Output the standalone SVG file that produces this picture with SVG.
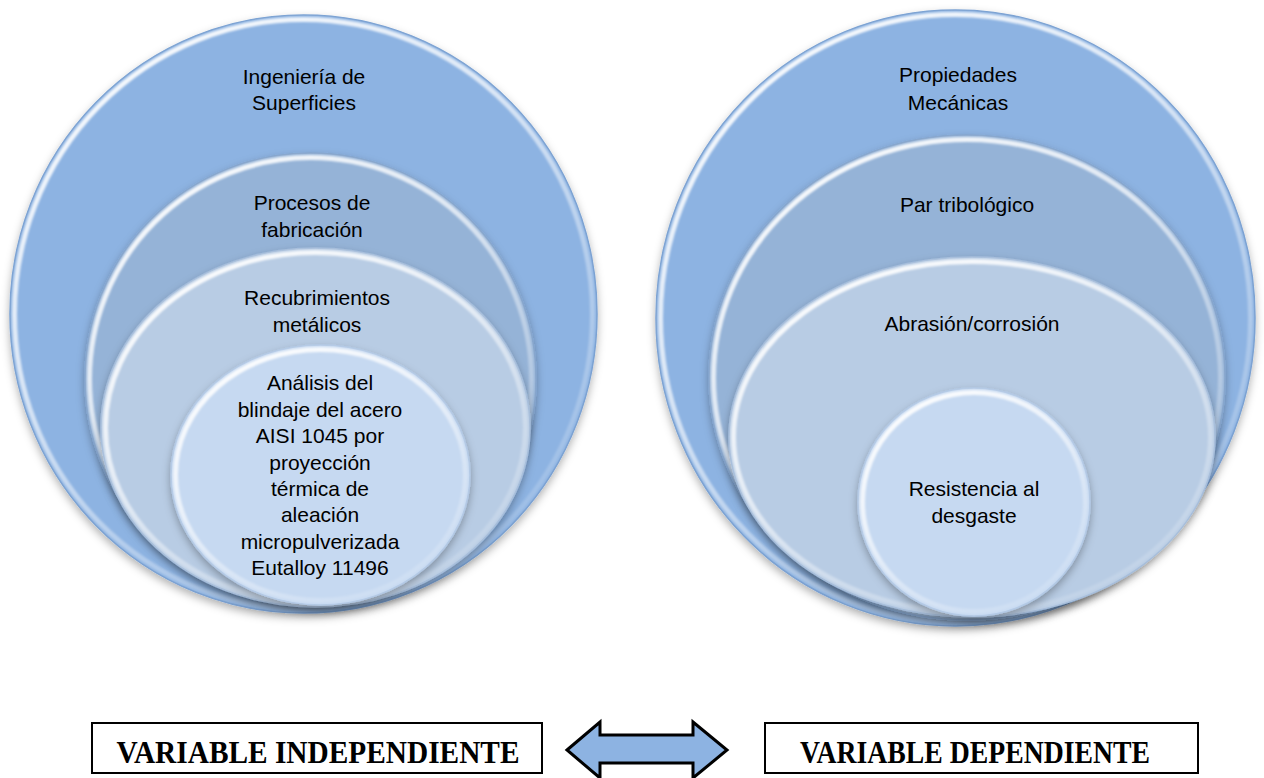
<svg xmlns="http://www.w3.org/2000/svg" width="1264" height="778" viewBox="0 0 1264 778">
<style>
.t{font-family:"Liberation Sans",Arial,sans-serif;font-size:21px;fill:#000;text-anchor:middle}
.b{font-family:"Liberation Serif","Times New Roman",serif;font-weight:bold;font-size:32px;fill:#000;text-anchor:middle}
.l1{fill:#8DB3E2;stroke:#7aa1d2;stroke-width:1.5;filter:url(#sh)}
.l2{fill:#95B3D7;stroke:#86a5cc;stroke-width:1.5;filter:url(#sh)}
.l3{fill:#B8CCE4;stroke:#a7bedb;stroke-width:1.5;filter:url(#sh)}
.l4{fill:#C6D9F1;stroke:#b3c9e5;stroke-width:1.5;filter:url(#sh)}
.rim{fill:none;stroke:url(#rim);stroke-width:5;filter:url(#bl)}
.box{fill:#fff;stroke:#000;stroke-width:2}
</style>
<defs>
<filter id="sh" x="-10%" y="-10%" width="120%" height="125%">
<feDropShadow dx="0" dy="4" stdDeviation="4" flood-color="#000" flood-opacity="0.3"/>
</filter>
<filter id="bl" x="-5%" y="-5%" width="110%" height="110%">
<feGaussianBlur stdDeviation="1.2"/>
</filter>
<linearGradient id="rim" x1="0.2" y1="0" x2="0.8" y2="1">
<stop offset="0" stop-color="#fff" stop-opacity="0.95"/>
<stop offset="0.35" stop-color="#fff" stop-opacity="0.7"/>
<stop offset="0.65" stop-color="#fff" stop-opacity="0.35"/>
<stop offset="1" stop-color="#fff" stop-opacity="0.1"/>
</linearGradient>
</defs>

<g id="left-diagram">
<g id="n-ingenieria">
<ellipse class="l1" cx="303.5" cy="314" rx="293.5" ry="299"/>
<ellipse class="rim" cx="303.5" cy="314" rx="289" ry="294.5"/>
<text class="t" x="304" y="84">Ingeniería de</text>
<text class="t" x="304" y="110">Superficies</text>
</g>
<g id="n-procesos">
<ellipse class="l2" cx="310.5" cy="379" rx="225.5" ry="226"/>
<ellipse class="rim" cx="310.5" cy="379" rx="221" ry="221.5"/>
<text class="t" x="312" y="210">Procesos de</text>
<text class="t" x="312" y="237">fabricación</text>
</g>
<g id="n-recubrimientos">
<ellipse class="l3" cx="315.5" cy="427.5" rx="214.5" ry="179.5"/>
<ellipse class="rim" cx="315.5" cy="427.5" rx="210" ry="175"/>
<text class="t" x="317" y="305">Recubrimientos</text>
<text class="t" x="317" y="332">metálicos</text>
</g>
<g id="n-analisis">
<ellipse class="l4" cx="320.5" cy="475" rx="149.5" ry="130"/>
<ellipse class="rim" cx="320.5" cy="475" rx="145" ry="125.5"/>
<text class="t" x="320" y="390">Análisis del</text>
<text class="t" x="320" y="417">blindaje del acero</text>
<text class="t" x="320" y="443">AISI 1045 por</text>
<text class="t" x="320" y="470">proyección</text>
<text class="t" x="320" y="496">térmica de</text>
<text class="t" x="320" y="522">aleación</text>
<text class="t" x="320" y="549">micropulverizada</text>
<text class="t" x="320" y="575">Eutalloy 11496</text>
</g>
</g>

<g id="right-diagram">
<g id="n-propiedades">
<ellipse class="l1" cx="955.5" cy="318" rx="299.5" ry="308"/>
<ellipse class="rim" cx="955.5" cy="318" rx="295" ry="303.5"/>
<text class="t" x="958" y="82">Propiedades</text>
<text class="t" x="958" y="110">Mecánicas</text>
</g>
<g id="n-par">
<ellipse class="l2" cx="967" cy="377.5" rx="258" ry="242.5"/>
<ellipse class="rim" cx="967" cy="377.5" rx="253.5" ry="238"/>
<text class="t" x="967" y="212">Par tribológico</text>
</g>
<g id="n-abrasion">
<ellipse class="l3" cx="972" cy="437" rx="243" ry="180"/>
<ellipse class="rim" cx="972" cy="437" rx="238.5" ry="175.5"/>
<text class="t" x="972" y="331">Abrasión/corrosión</text>
</g>
<g id="n-resistencia">
<ellipse class="l4" cx="974" cy="502" rx="116" ry="114"/>
<ellipse class="rim" cx="974" cy="502" rx="111.5" ry="109.5"/>
<text class="t" x="974" y="496">Resistencia al</text>
<text class="t" x="974" y="523">desgaste</text>
</g>
</g>

<g id="n-var-independiente">
<rect class="box" x="92" y="723" width="450" height="50"/>
<text class="b" x="318" y="763" textLength="403" lengthAdjust="spacingAndGlyphs">VARIABLE INDEPENDIENTE</text>
</g>
<g id="n-var-dependiente">
<rect class="box" x="765" y="723" width="433" height="50"/>
<text class="b" x="975" y="763" textLength="350" lengthAdjust="spacingAndGlyphs">VARIABLE DEPENDIENTE</text>
</g>

<g id="connectors">
<path d="M567,750 L600,722 L600,735 L693,735 L693,722 L727,750 L693,778 L693,763 L600,763 L600,778 Z" fill="#8DB3E2" stroke="#000" stroke-width="3" stroke-linejoin="miter"/>
</g>
</svg>
